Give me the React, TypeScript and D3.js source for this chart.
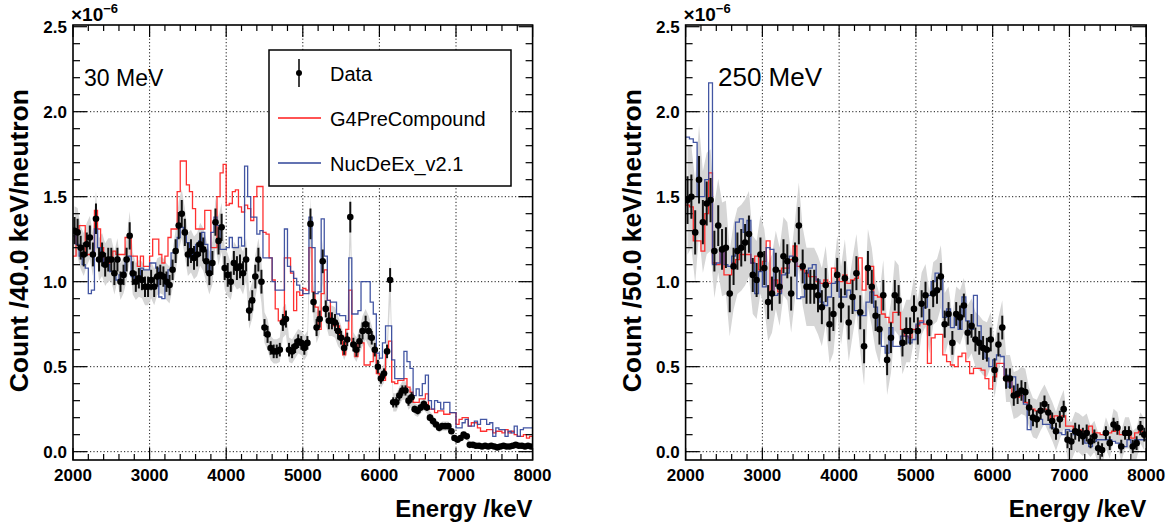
import React, { useEffect, useRef } from 'react';
import * as d3 from 'd3';

const W = 1169;
const H = 525;
const FONT = "'Liberation Sans', Arial, Helvetica, sans-serif";

// ---- 30 MeV : 40 keV bins, 2000-8000 keV, values in 1e-6 ----
const data30 = [
  1.30, 1.29, 1.20, 1.16, 1.22, 1.26, 1.16, 1.37, 1.13, 1.16, 1.10, 1.13, 1.13, 1.05, 1.13, 1.00, 1.04, 1.13, 1.27, 1.05, 1.00, 1.02, 1.01, 0.97, 0.97,
  1.01, 0.97, 1.03, 1.04, 1.03, 1.00, 0.98, 1.07, 1.18, 1.33, 1.40, 1.29, 1.16, 1.18, 1.14, 1.16, 1.22, 1.19, 1.12, 1.05, 1.11, 1.35, 1.24, 1.32, 1.08,
  1.04, 1.00, 1.11, 1.08, 1.09, 1.05, 1.13, 0.83, 0.89, 1.03, 1.13, 1.00, 0.73, 0.69, 0.61, 0.59, 0.59, 0.60, 0.76, 0.78, 0.60, 0.59, 0.62, 0.65, 0.64,
  0.61, 0.64, 1.34, 0.88, 0.73, 0.78, 1.12, 0.84, 0.77, 0.77, 0.76, 0.71, 0.67, 0.61, 0.66, 1.38, 0.63, 0.60, 0.65, 0.71, 0.75, 0.71, 0.67, 0.60, 0.50,
  0.43, 0.46, 0.59, 1.01, 0.29, 0.29, 0.33, 0.36, 0.36, 0.30, 0.32, 0.25, 0.24, 0.26, 0.28, 0.26, 0.20, 0.18, 0.16, 0.14, 0.15, 0.15, 0.15, 0.12, 0.08,
  0.07, 0.08, 0.10, 0.09, 0.04, 0.04, 0.035, 0.035, 0.03, 0.035, 0.03, 0.035, 0.03, 0.025, 0.03, 0.035, 0.03, 0.03, 0.035, 0.04, 0.035, 0.035, 0.03, 0.035, 0.03,
];
const err30 = [
  0.08, 0.08, 0.07, 0.07, 0.07, 0.07, 0.07, 0.09, 0.07, 0.07, 0.07, 0.07, 0.07, 0.07, 0.07, 0.06, 0.06, 0.07, 0.08, 0.07, 0.06, 0.06, 0.06, 0.06, 0.06,
  0.06, 0.06, 0.06, 0.06, 0.06, 0.06, 0.06, 0.06, 0.07, 0.08, 0.08, 0.08, 0.07, 0.07, 0.07, 0.07, 0.07, 0.07, 0.07, 0.07, 0.07, 0.08, 0.08, 0.08, 0.07,
  0.07, 0.06, 0.07, 0.07, 0.07, 0.07, 0.07, 0.06, 0.06, 0.07, 0.07, 0.07, 0.05, 0.05, 0.04, 0.04, 0.04, 0.04, 0.05, 0.05, 0.04, 0.04, 0.04, 0.04, 0.04,
  0.04, 0.04, 0.09, 0.06, 0.05, 0.05, 0.07, 0.05, 0.05, 0.05, 0.05, 0.05, 0.04, 0.04, 0.04, 0.09, 0.04, 0.04, 0.04, 0.05, 0.05, 0.05, 0.04, 0.04, 0.04,
  0.03, 0.03, 0.04, 0.07, 0.03, 0.03, 0.03, 0.03, 0.03, 0.03, 0.03, 0.02, 0.02, 0.02, 0.02, 0.02, 0.02, 0.02, 0.015, 0.015, 0.015, 0.015, 0.015, 0.015, 0.01,
  0.01, 0.01, 0.01, 0.01, 0.008, 0.008, 0.008, 0.008, 0.008, 0.008, 0.008, 0.008, 0.008, 0.008, 0.008, 0.008, 0.008, 0.008, 0.008, 0.008, 0.008, 0.008, 0.008, 0.008, 0.008,
];
const g4pc30 = [
  1.15, 1.30, 1.33, 1.33, 1.16, 1.16, 1.16, 1.42, 1.31, 1.20, 1.09, 1.11, 1.13, 1.18, 1.16, 1.16, 1.16, 1.26, 1.26, 1.15, 1.15, 1.09, 1.15, 1.09, 1.09,
  1.15, 1.25, 1.25, 1.16, 1.11, 1.15, 1.26, 1.31, 1.31, 1.53, 1.71, 1.71, 1.57, 1.53, 1.43, 1.31, 1.31, 1.31, 1.42, 1.42, 1.20, 1.20, 1.50, 1.64, 1.69,
  1.45, 1.46, 1.53, 1.54, 1.44, 1.41, 1.45, 1.43, 1.36, 1.50, 1.56, 1.56, 1.29, 1.28, 1.14, 1.01, 0.84, 0.77, 0.78, 1.14, 1.14, 1.05, 0.83, 0.94, 0.92,
  0.96, 0.95, 1.20, 0.94, 0.85, 0.72, 0.93, 1.07, 0.89, 0.77, 0.74, 0.74, 0.67, 0.57, 0.72, 0.95, 0.62, 0.56, 0.64, 0.64, 0.51, 0.51, 0.53, 0.60, 0.46,
  0.42, 0.42, 0.60, 0.65, 0.41, 0.40, 0.42, 0.42, 0.43, 0.38, 0.35, 0.29, 0.29, 0.31, 0.31, 0.34, 0.25, 0.25, 0.23, 0.24, 0.24, 0.22, 0.22, 0.23, 0.23,
  0.16, 0.19, 0.20, 0.20, 0.15, 0.17, 0.17, 0.14, 0.12, 0.12, 0.13, 0.13, 0.11, 0.12, 0.12, 0.11, 0.13, 0.11, 0.12, 0.10, 0.09, 0.09, 0.10, 0.08, 0.09,
];
const nucdeex30 = [
  1.27, 1.22, 1.15, 1.10, 1.08, 0.93, 0.95, 1.31, 1.20, 1.14, 1.09, 1.10, 1.06, 1.05, 1.01, 1.04, 1.04, 1.14, 1.15, 1.03, 1.00, 1.03, 1.08, 1.07, 1.07,
  1.11, 1.11, 1.08, 0.91, 0.90, 0.99, 1.07, 1.17, 1.17, 1.26, 1.32, 1.29, 1.23, 1.14, 1.18, 1.22, 1.24, 1.29, 1.22, 1.04, 1.29, 1.38, 1.33, 1.19, 1.19,
  1.20, 1.26, 1.20, 1.20, 1.26, 1.21, 1.68, 1.50, 1.38, 1.38, 1.28, 1.30, 1.14, 1.14, 1.14, 1.00, 0.95, 0.95, 0.95, 1.31, 1.09, 1.06, 1.02, 0.98, 0.95,
  0.93, 0.93, 1.38, 1.20, 0.93, 0.94, 1.37, 1.15, 0.89, 0.88, 0.88, 0.81, 0.80, 0.80, 0.77, 1.14, 0.81, 0.81, 0.83, 1.00, 1.00, 1.00, 0.88, 0.81, 0.58,
  0.55, 0.64, 0.74, 0.74, 0.54, 0.43, 0.43, 0.43, 0.59, 0.53, 0.49, 0.33, 0.37, 0.33, 0.40, 0.45, 0.30, 0.25, 0.30, 0.29, 0.25, 0.29, 0.29, 0.23, 0.23,
  0.14, 0.14, 0.17, 0.19, 0.15, 0.15, 0.18, 0.16, 0.19, 0.19, 0.16, 0.17, 0.09, 0.14, 0.13, 0.13, 0.09, 0.12, 0.11, 0.15, 0.09, 0.13, 0.14, 0.14, 0.14,
];

// ---- 250 MeV : 50 keV bins ----
const data250 = [
  1.48, 1.50, 1.29, 1.60, 1.35, 1.46, 1.48, 1.18, 1.33, 1.19, 1.20, 0.93, 1.09, 1.18, 1.20, 1.23, 1.28, 1.04, 1.01, 1.16,
  1.08, 0.88, 0.93, 1.07, 0.97, 1.15, 1.12, 0.93, 1.13, 1.33, 1.09, 0.97, 0.97, 0.97, 0.92, 0.85, 0.98, 0.75, 0.81, 1.04,
  0.86, 1.02, 0.76, 0.91, 1.05, 0.82, 0.62, 1.08, 0.97, 0.80, 0.72, 0.92, 0.54, 0.67, 0.92, 0.89, 0.64, 0.71, 0.71, 0.84,
  0.71, 0.87, 0.92, 0.76, 0.93, 0.95, 1.03, 0.75, 0.81, 0.64, 0.81, 0.79, 0.86, 0.70, 0.74, 0.66, 0.64, 0.61, 0.60, 0.66,
  0.48, 0.63, 0.73, 0.43, 0.43, 0.33, 0.34, 0.36, 0.35, 0.26, 0.20, 0.19, 0.24, 0.28, 0.23, 0.18, 0.12, 0.19, 0.25, 0.07,
  0.06, 0.12, 0.11, 0.09, 0.11, 0.06, 0.09, 0.02, 0.01, 0.11, 0.05, 0.16, 0.14, 0.03, 0.11, 0.11, 0.03, 0.05, 0.14, 0.10,
];
const err250 = [
  0.14, 0.13, 0.13, 0.14, 0.13, 0.13, 0.13, 0.12, 0.12, 0.12, 0.12, 0.11, 0.11, 0.11, 0.11, 0.11, 0.11, 0.10, 0.10, 0.10,
  0.10, 0.10, 0.10, 0.10, 0.10, 0.10, 0.10, 0.10, 0.10, 0.11, 0.10, 0.10, 0.10, 0.10, 0.10, 0.10, 0.10, 0.10, 0.10, 0.10,
  0.10, 0.10, 0.10, 0.10, 0.10, 0.10, 0.10, 0.10, 0.10, 0.09, 0.09, 0.09, 0.09, 0.09, 0.09, 0.09, 0.08, 0.08, 0.08, 0.08,
  0.08, 0.08, 0.08, 0.08, 0.08, 0.08, 0.08, 0.08, 0.07, 0.07, 0.07, 0.07, 0.07, 0.07, 0.07, 0.07, 0.07, 0.07, 0.07, 0.07,
  0.07, 0.07, 0.07, 0.06, 0.06, 0.06, 0.06, 0.06, 0.06, 0.05, 0.05, 0.05, 0.05, 0.05, 0.05, 0.05, 0.05, 0.05, 0.05, 0.05,
  0.05, 0.05, 0.05, 0.05, 0.05, 0.04, 0.04, 0.04, 0.04, 0.04, 0.04, 0.04, 0.04, 0.04, 0.04, 0.04, 0.04, 0.04, 0.04, 0.04,
];
const g4pc250 = [
  1.45, 1.44, 1.24, 1.24, 1.18, 1.40, 1.64, 1.11, 1.10, 1.19, 1.04, 1.04, 1.11, 1.13, 1.16, 1.16, 1.16, 1.11, 1.15, 1.07,
  1.12, 1.24, 0.93, 1.01, 0.94, 1.08, 1.08, 1.13, 1.21, 1.09, 1.07, 1.05, 1.03, 1.03, 1.00, 0.99, 1.01, 0.99, 1.08, 1.05,
  1.00, 1.04, 0.99, 1.01, 1.02, 1.14, 0.95, 1.09, 1.09, 0.92, 0.91, 0.81, 0.79, 0.76, 0.82, 0.82, 0.72, 0.68, 0.67, 0.72,
  0.74, 0.77, 0.75, 0.52, 0.67, 0.69, 0.69, 0.57, 0.53, 0.51, 0.50, 0.56, 0.58, 0.53, 0.46, 0.49, 0.49, 0.48, 0.43, 0.37,
  0.44, 0.52, 0.52, 0.42, 0.41, 0.34, 0.32, 0.33, 0.29, 0.26, 0.25, 0.24, 0.24, 0.25, 0.23, 0.19, 0.21, 0.19, 0.21, 0.15,
  0.15, 0.13, 0.13, 0.12, 0.12, 0.15, 0.11, 0.11, 0.10, 0.11, 0.11, 0.12, 0.14, 0.10, 0.10, 0.11, 0.08, 0.11, 0.12, 0.11,
];
const nucdeex250 = [
  1.85, 1.84, 1.82, 1.50, 1.50, 1.60, 2.17, 1.10, 1.11, 1.19, 1.10, 1.09, 1.15, 1.35, 1.37, 1.29, 1.36, 1.11, 0.93, 1.06,
  0.97, 1.20, 1.19, 0.92, 0.93, 1.04, 1.05, 1.15, 1.14, 0.90, 0.91, 1.05, 1.08, 1.10, 1.01, 0.88, 0.86, 0.91, 0.99, 1.00,
  0.91, 0.91, 0.95, 0.91, 0.83, 0.80, 0.80, 0.88, 0.94, 0.85, 0.73, 0.62, 0.58, 0.73, 0.62, 0.62, 0.68, 0.68, 0.64, 0.66,
  0.75, 0.76, 0.85, 0.92, 1.00, 1.05, 1.02, 0.79, 0.84, 0.73, 0.79, 0.72, 0.91, 0.77, 0.72, 0.92, 0.74, 0.62, 0.55, 0.50,
  0.54, 0.57, 0.56, 0.45, 0.38, 0.44, 0.34, 0.37, 0.28, 0.13, 0.21, 0.20, 0.19, 0.16, 0.16, 0.14, 0.11, 0.11, 0.10, 0.13,
  0.12, 0.10, 0.10, 0.09, 0.05, 0.03, 0.06, 0.07, 0.07, 0.07, 0.07, 0.06, 0.05, 0.03, 0.03, 0.07, 0.05, 0.07, 0.07, 0.07,
];

const xTicks = [2000, 3000, 4000, 5000, 6000, 7000, 8000];
const yTicks = [0, 0.5, 1.0, 1.5, 2.0, 2.5];
const legendLabels = ['Data', 'G4PreCompound', 'NucDeEx_v2.1'];

const RED = '#ff1a1a';
const BLUE = '#2f4499';

const panels = [
  { id: 'p30', x0: 73, x1: 532.6, binW: 40, title: '30 MeV', titleX: 84, titleSize: 23, yTitle: 'Count /40.0 keV/neutron',
    data: data30, err: err30, g4: g4pc30, nuc: nucdeex30, band: 1.8, legend: true },
  { id: 'p250', x0: 685.6, x1: 1146.2, binW: 50, title: '250 MeV', titleX: 718, titleSize: 26, yTitle: 'Count /50.0 keV/neutron',
    data: data250, err: err250, g4: g4pc250, nuc: nucdeex250, band: 2.3, legend: false },
];

function drawPanel(svg: any, p: any) {
  const top = 25, bottom = 460;
  const x = d3.scaleLinear().domain([2000, 8000]).range([p.x0, p.x1]);
  const y = d3.scaleLinear().domain([-0.049, 2.51]).range([bottom, top]);
  const g = svg.append('g');

  svg.append('defs').append('clipPath').attr('id', 'clip-' + p.id)
    .append('rect').attr('x', p.x0).attr('y', top).attr('width', p.x1 - p.x0).attr('height', bottom - top);

  /* grid */
  const grid = g.append('g').attr('stroke', '#000').attr('stroke-width', 0.9).attr('stroke-dasharray', '1.2,2.2');
  xTicks.slice(1, -1).forEach((t: number) => {
    grid.append('line').attr('x1', x(t)).attr('x2', x(t)).attr('y1', top).attr('y2', bottom);
  });
  yTicks.slice(0, -1).forEach((t: number) => {
    grid.append('line').attr('x1', p.x0).attr('x2', p.x1).attr('y1', y(t)).attr('y2', y(t));
  });

  const plot = g.append('g').attr('clip-path', `url(#clip-${p.id})`);
  const centers = p.data.map((_: number, i: number) => 2000 + p.binW * (i + 0.5));

  /* uncertainty band */
  const area = d3.area<number>()
    .x((_, i) => x(centers[i]))
    .y0((d, i) => y(d - p.band * p.err[i]))
    .y1((d, i) => y(d + p.band * p.err[i]));
  plot.append('path').attr('d', area(p.data)).attr('fill', '#d6d6d6');

  /* histograms */
  const step = (vals: number[]) => {
    const pts: [number, number][] = vals.map((v, i) => [2000 + p.binW * i, v]);
    pts.push([8000, vals[vals.length - 1]]);
    return d3.line().x(d => x(d[0])).y(d => y(d[1])).curve(d3.curveStepAfter)(pts);
  };
  plot.append('path').attr('d', step(p.g4)).attr('fill', 'none').attr('stroke', RED)
    .attr('stroke-width', 1.3).attr('opacity', 0.9);
  plot.append('path').attr('d', step(p.nuc)).attr('fill', 'none').attr('stroke', BLUE)
    .attr('stroke-width', 1.3).attr('opacity', 0.9);

  /* data points */
  const pts = plot.append('g');
  p.data.forEach((v: number, i: number) => {
    pts.append('line').attr('x1', x(centers[i])).attr('x2', x(centers[i]))
      .attr('y1', y(v - p.err[i])).attr('y2', y(v + p.err[i]))
      .attr('stroke', '#111').attr('stroke-width', 2);
  });
  pts.selectAll('circle').data(p.data).enter().append('circle')
    .attr('cx', (_: number, i: number) => x(centers[i]))
    .attr('cy', (d: number) => y(d))
    .attr('r', 3.3)
    .attr('fill', '#000');

  /* frame + ticks */
  g.append('rect').attr('x', p.x0).attr('y', top).attr('width', p.x1 - p.x0).attr('height', bottom - top)
    .attr('fill', 'none').attr('stroke', '#000').attr('stroke-width', 1.6);
  const ticks = g.append('g').attr('stroke', '#000').attr('stroke-width', 1.2);
  for (let e = 2000; e <= 8000; e += 200) {
    const len = e % 1000 === 0 ? 12 : 6;
    ticks.append('line').attr('x1', x(e)).attr('x2', x(e)).attr('y1', bottom).attr('y2', bottom - len);
    ticks.append('line').attr('x1', x(e)).attr('x2', x(e)).attr('y1', top).attr('y2', top + len);
  }
  for (let k = 0; k <= 25; k++) {
    const v = k / 10;
    const len = k % 5 === 0 ? 14 : 7;
    ticks.append('line').attr('x1', p.x0).attr('x2', p.x0 + len).attr('y1', y(v)).attr('y2', y(v));
    ticks.append('line').attr('x1', p.x1).attr('x2', p.x1 - len).attr('y1', y(v)).attr('y2', y(v));
  }

  /* tick labels */
  const lab = g.append('g').attr('font-family', FONT).attr('font-weight', 'bold').attr('font-size', 17).attr('fill', '#000');
  xTicks.forEach((t: number) => {
    lab.append('text').attr('x', x(t)).attr('y', 481).attr('text-anchor', 'middle').text(String(t));
  });
  yTicks.forEach((t: number) => {
    lab.append('text').attr('x', p.x0 - 6).attr('y', y(t) + 6).attr('text-anchor', 'end').text(t.toFixed(1));
  });
  const exp = lab.append('text').attr('x', p.x0 - 2).attr('y', 21).attr('font-size', 19);
  exp.append('tspan').text('\u00d710');
  exp.append('tspan').attr('dy', -8).attr('font-size', 13).text('\u22126');

  /* axis titles */
  g.append('text').attr('x', p.x1).attr('y', 517).attr('text-anchor', 'end')
    .attr('font-family', FONT).attr('font-weight', 'bold').attr('font-size', 24).text('Energy /keV');
  g.append('text').attr('transform', `translate(${p.x0 - 45},${89}) rotate(-90)`).attr('text-anchor', 'end')
    .attr('font-family', FONT).attr('font-weight', 'bold').attr('font-size', 26.5).text(p.yTitle);

  g.append('text').attr('x', p.titleX).attr('y', 86)
    .attr('font-family', FONT).attr('font-size', p.titleSize).text(p.title);

  if (p.legend) {
    const lg = g.append('g').attr('font-family', FONT).attr('font-size', 20);
    lg.append('rect').attr('x', 269).attr('y', 50).attr('width', 242).attr('height', 136)
      .attr('fill', '#fff').attr('stroke', '#000').attr('stroke-width', 1.5);
    const rows = [73, 118, 163];
    lg.append('line').attr('x1', 299).attr('x2', 299).attr('y1', 59).attr('y2', 87).attr('stroke', '#000').attr('stroke-width', 1.5);
    lg.append('circle').attr('cx', 299).attr('cy', rows[0]).attr('r', 3).attr('fill', '#000');
    lg.append('line').attr('x1', 278).attr('x2', 321).attr('y1', rows[1]).attr('y2', rows[1]).attr('stroke', RED).attr('stroke-width', 1.3);
    lg.append('line').attr('x1', 278).attr('x2', 321).attr('y1', rows[2]).attr('y2', rows[2]).attr('stroke', BLUE).attr('stroke-width', 1.3);
    legendLabels.forEach((l, i) => {
      lg.append('text').attr('x', 330).attr('y', rows[i] + 8).attr('fill', '#000').text(l);
    });
  }
}

export default function App() {
  const ref = useRef<SVGSVGElement>(null);

  useEffect(() => {
    const svg = d3.select(ref.current);
    svg.selectAll('*').remove();
    svg.append('rect').attr('width', W).attr('height', H).attr('fill', '#fff');
    panels.forEach(p => drawPanel(svg, p));
  }, []);

  return (
    <svg ref={ref} width={W} height={H} style={{ position: 'absolute', left: 0, top: 0, display: 'block' }} />
  );
}
